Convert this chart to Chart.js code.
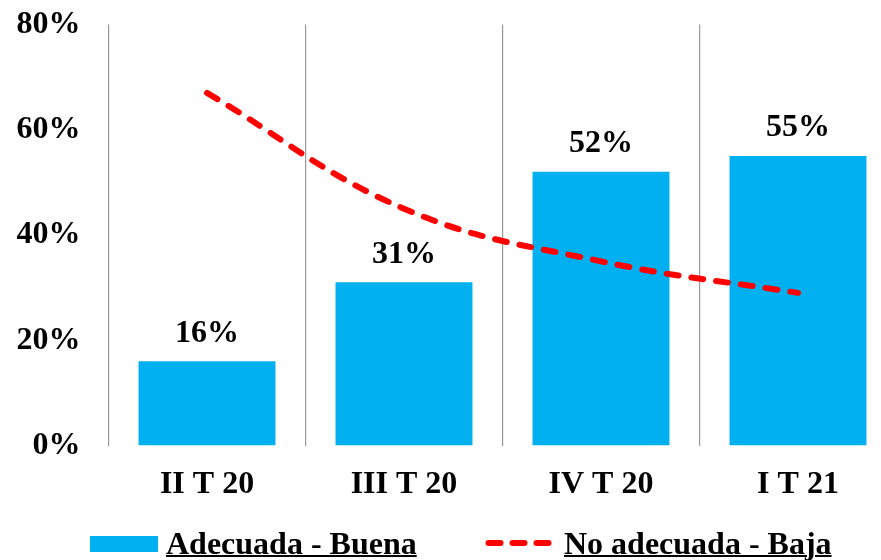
<!DOCTYPE html>
<html>
<head>
<meta charset="utf-8">
<script src="https://cdn.jsdelivr.net/npm/chart.js@4.4.1/dist/chart.umd.min.js"></script>
<style>
  html, body { margin: 0; padding: 0; overflow: hidden; background: #fff; }
  #wrap { position: relative; width: 900px; height: 560px; }
  #c { position: absolute; left: 0; top: 0; }
  .lg { position: absolute; font: bold 32px "Liberation Serif", "Times New Roman", serif; line-height: 32px; color: #000; text-decoration: underline; text-decoration-thickness: 2px; white-space: nowrap; }
  .box { position: absolute; }
</style>
</head>
<body>
<div id="wrap">
  <canvas id="c" width="900" height="560"></canvas>
  <div id="legend"></div>
</div>
<script>
const categories = ['II T 20', 'III T 20', 'IV T 20', 'I T 21'];
const adecuadaBuena = [16, 31, 52, 55];
const noAdecuadaBaja = [67, 45, 35, 29];
const yTicks = [0, 20, 40, 60, 80];
const seriesNames = ['Adecuada - Buena', 'No adecuada - Baja'];
const blue = '#00B0F0';
const red = '#FF0000';
const font = '"Liberation Serif", "Times New Roman", serif';

const barLabels = {
  id: 'barLabels',
  afterDatasetsDraw(chart) {
    const meta = chart.getDatasetMeta(1);
    const ctx = chart.ctx;
    ctx.save();
    ctx.font = 'bold 32px ' + font;
    ctx.fillStyle = '#000';
    ctx.textAlign = 'center';
    ctx.textBaseline = 'middle';
    meta.data.forEach((el, i) => {
      ctx.fillText(adecuadaBuena[i] + '%', el.x, el.y - 28);
    });
    ctx.restore();
  }
};

const chart = new Chart(document.getElementById('c'), {
  data: {
    labels: categories,
    datasets: [
      {
        type: 'line',
        label: seriesNames[1],
        data: noAdecuadaBaja,
        borderColor: red,
        borderWidth: 6,
        borderDash: [12, 13],
        borderCapStyle: 'round',
        tension: 0.4,
        pointRadius: 0,
        fill: false,
        order: 0
      },
      {
        type: 'bar',
        label: seriesNames[0],
        data: adecuadaBuena,
        backgroundColor: blue,
        borderWidth: 0,
        categoryPercentage: 1,
        barPercentage: 0.695,
        order: 1
      }
    ]
  },
  options: {
    responsive: false,
    devicePixelRatio: 1,
    animation: false,
    layout: { padding: { left: 0, right: 3.5, top: 24.5, bottom: 0 } },
    plugins: { legend: { display: false }, tooltip: { enabled: false } },
    scales: {
      x: {
        offset: true,
        grid: { display: true, offset: true, color: '#999', lineWidth: 1.2, drawTicks: false },
        border: { display: false },
        ticks: { color: '#000', font: { family: font, size: 32, weight: 'bold' }, padding: 20 },
        afterFit: (s) => { s.height = 114.5; s.paddingLeft = 0; s.paddingRight = 0; }
      },
      y: {
        min: 0, max: 80,
        afterBuildTicks: (s) => { s.ticks = yTicks.map(v => ({ value: v })); },
        grid: { display: false, drawTicks: false },
        border: { display: false },
        ticks: { color: '#000', font: { family: font, size: 32, weight: 'bold' }, padding: 28, callback: (v) => v + '%' },
        afterFit: (s) => { s.width = 108.5; s.paddingTop = 0; s.paddingBottom = 0; }
      }
    }
  },
  plugins: [barLabels]
});

const lg = document.getElementById('legend');
lg.innerHTML =
  '<div class="box" style="left:90px;top:536px;width:68px;height:16px;background:' + blue + '"></div>' +
  '<div class="lg" style="left:166px;top:527px">' + seriesNames[0] + '</div>' +
  '<svg class="box" style="left:484px;top:538px" width="72" height="10"><line x1="4.5" y1="5" x2="64.5" y2="5" stroke="' + red + '" stroke-width="6" stroke-linecap="round" stroke-dasharray="12 12"/></svg>' +
  '<div class="lg" style="left:564px;top:527px">' + seriesNames[1] + '</div>';
</script>
</body>
</html>
